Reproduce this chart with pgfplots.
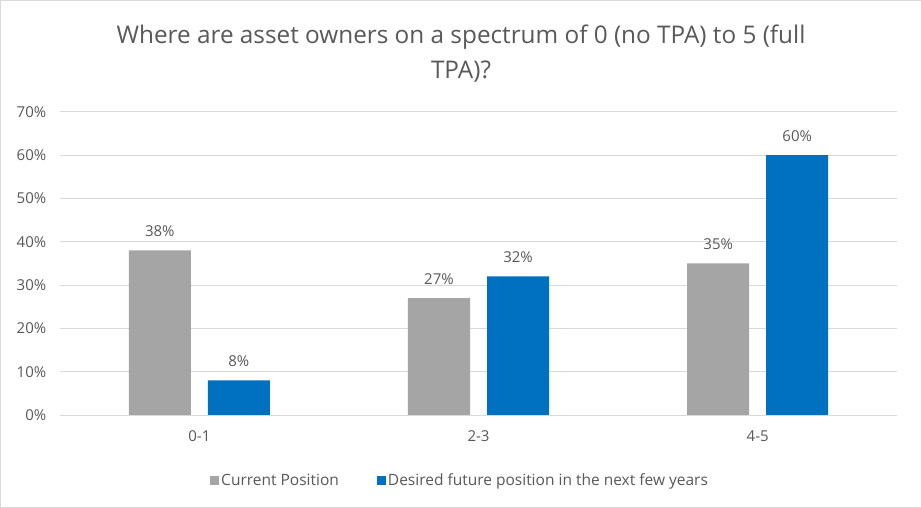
\documentclass[border=0pt]{standalone}
\usepackage{pgfplots}
\pgfplotsset{compat=1.18}
\usepackage{fontspec}
\setmainfont{Open Sans}
\definecolor{txt}{HTML}{595959}
\definecolor{gridc}{HTML}{D9D9D9}
\definecolor{cgray}{HTML}{A5A5A5}
\definecolor{cblue}{HTML}{0070C0}
\begin{document}
\begin{tikzpicture}[x=1pt,y=1pt]
\draw[fill=white,draw=gridc] (0.5,0.5) rectangle (920.5,507.5);
\node[text=txt,font=\fontsize{24.3}{35}\selectfont,align=center] at (461,454) {Where are asset owners on a spectrum of 0 (no TPA) to 5 (full\\TPA)?};
\begin{axis}[
  at={(60pt,93pt)}, anchor=south west,
  scale only axis, width=837pt, height=303pt,
  ybar=17pt, bar width=62pt,
  xmin=-0.5, xmax=2.5, ymin=0, ymax=70,
  xtick={0,1,2}, xticklabels={0-1,2-3,4-5},
  ytick={0,10,...,70},
  yticklabel={\pgfmathprintnumber{\tick}\%},
  /pgf/number format/assume math mode=true,
  ymajorgrids, xmajorgrids=false, grid style={draw=gridc, line width=0.8pt},
  axis x line*=bottom, axis y line*=left,
  x axis line style={draw=gridc, line width=0.8pt},
  y axis line style={draw=none},
  major tick length=0pt,
  ticklabel style={text=txt, font=\fontsize{15}{17}\selectfont},
  yticklabel style={xshift=-10pt},
  xticklabel style={yshift=-12pt},
  nodes near coords={\pgfmathprintnumber{\pgfplotspointmeta}\%},
  nodes near coords style={text=txt, font=\fontsize{15}{17}\selectfont, yshift=10pt},
  legend style={at={(0.478,-0.215)}, anchor=center, draw=none, legend columns=2,
    font=\fontsize{15.5}{17}\selectfont, text=txt,
    /tikz/every even column/.append style={column sep=36pt}},
  legend image code/.code={\fill[#1] (-2pt,-4.5pt) rectangle (7pt,4.5pt);},
  clip=false,
]
\addplot[fill=cgray, draw=none] coordinates {(0,38) (1,27) (2,35)};
\addplot[fill=cblue, draw=none] coordinates {(0,8) (1,32) (2,60)};
\legend{Current Position, Desired future position in the next few years}
\end{axis}
\end{tikzpicture}
\end{document}
